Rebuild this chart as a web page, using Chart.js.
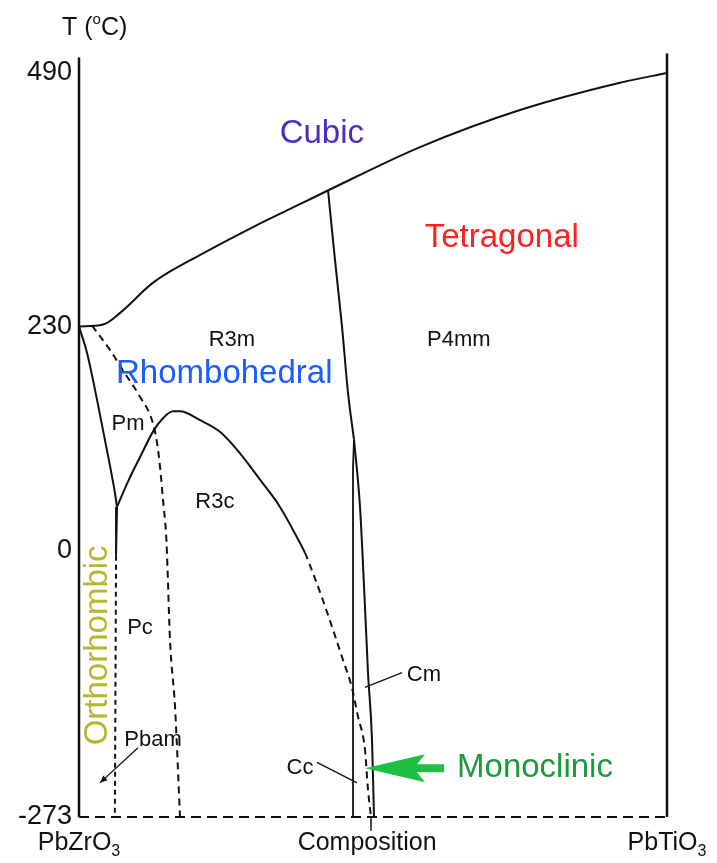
<!DOCTYPE html>
<html>
<head>
<meta charset="utf-8">
<script src="https://cdn.jsdelivr.net/npm/chart.js@4/dist/chart.umd.min.js"></script>
<style>
  html, body { margin: 0; padding: 0; background: #ffffff; }
  #wrap { width: 717px; height: 863px; position: relative; }
</style>
</head>
<body>
<div id="wrap"><canvas id="phase"></canvas></div>
<script>
// Composition runs from 0 (PbZrO3) to 1 (PbTiO3); temperature in °C.
const temperatureTicks = [490, 230, 0, -273];
const compositionLabels = [
  { text: 'PbZrO', sub: '3', x: 0 },
  { text: 'Composition', sub: '', x: 0.49 },
  { text: 'PbTiO', sub: '3', x: 1 }
];

// Phase boundaries, as [composition, temperature] pairs
const cubicBoundary = [[0, 230], [0.041, 232], [0.070, 244], [0.126, 275], [0.211, 305], [0.296, 332],
  [0.381, 357], [0.425, 370], [0.580, 414], [0.750, 452], [0.920, 480], [1, 490]];
const pmBoundary = [[0, 230], [0.0136, 203], [0.0306, 155], [0.0476, 103], [0.0612, 59], [0.0646, 45]];
const orthoSolid = [[0.0646, 45], [0.063, -5]];
const orthoDashed = [[0.063, -5], [0.061, -273]];
const r3cSolid = [[0.0646, 45], [0.0833, 71], [0.1037, 96], [0.1276, 124], [0.1429, 136], [0.1599, 143],
  [0.1718, 143], [0.2058, 134], [0.2398, 122], [0.2738, 100], [0.3078, 73], [0.3418, 45], [0.3759, 8], [0.3844, -2]];
const r3cDashed = [[0.3844, -2], [0.398, -23], [0.415, -51], [0.432, -81], [0.449, -112], [0.464, -140],
  [0.4745, -170], [0.4864, -204], [0.4915, -245], [0.4966, -273]];
const tiltBoundary = [[0.022, 231], [0.0527, 206], [0.0748, 185], [0.1037, 158], [0.1241, 134], [0.1327, 111],
  [0.1378, 86], [0.1429, 52], [0.148, 18], [0.1497, -4], [0.1548, -92], [0.1633, -160], [0.1718, -273]];
const mpbBoundary = [[0.4235, 370], [0.4354, 298], [0.4473, 230], [0.4575, 162], [0.4677, 114]];
const monoLeft = [[0.4677, 114], [0.466, 85], [0.466, -273]];
const monoRight = [[0.4677, 114], [0.4779, 45], [0.4864, -58], [0.4915, -125], [0.4983, -194], [0.5017, -273]];

// Frame
const leftAxis = [[0, -273], [0, 506]];
const rightAxis = [[1, -273], [1, 510]];
const bottomAxis = [[0, -273], [1, -273]];
const compositionTick = [[0.4966, -273], [0.4966, -287]];

// Leader lines for the small phase labels
const pbamPointer = [[0.1003, -202], [0.0357, -238]];
const cmPointer = [[0.5493, -125], [0.4864, -140]];
const ccPointer = [[0.4048, -217], [0.4728, -238]];
const monoclinicArrow = { tip: [0.4864, -223], tail: [0.621, -223] };

// Phase names and space groups
const phaseLabels = [
  { text: 'Cubic', x: 0.413, y: 428, size: 33, color: '#4430c4' },
  { text: 'Tetragonal', x: 0.719, y: 321, size: 33, color: '#ff2020' },
  { text: 'R3m', x: 0.260, y: 216, size: 22, color: '#111111' },
  { text: 'P4mm', x: 0.646, y: 216, size: 22, color: '#111111' },
  { text: 'Rhombohedral', x: 0.247, y: 181, size: 33, color: '#1a5cff' },
  { text: 'Pm', x: 0.0833, y: 130, size: 22, color: '#111111' },
  { text: 'R3c', x: 0.231, y: 50, size: 22, color: '#111111' },
  { text: 'Pc', x: 0.1037, y: -79, size: 22, color: '#111111' },
  { text: 'Pbam', x: 0.1259, y: -194, size: 22, color: '#111111' },
  { text: 'Orthorhombic', x: 0.0323, y: -97, size: 33, color: '#b4b82c', rotate: true },
  { text: 'Cm', x: 0.5867, y: -127, size: 22, color: '#111111' },
  { text: 'Cc', x: 0.3759, y: -223, size: 22, color: '#111111' },
  { text: 'Monoclinic', x: 0.7755, y: -223, size: 33, color: '#1a9a3a' }
];

const FONT = '"Liberation Sans", Arial, Helvetica, sans-serif';
const toXY = arr => arr.map(p => ({ x: p[0], y: p[1] }));

// smooth boundary drawn as a monotone spline along composition
function curve(data, opts) {
  return Object.assign({
    data: toXY(data), showLine: true, pointRadius: 0, borderColor: '#111111',
    borderWidth: 2, cubicInterpolationMode: 'monotone', fill: false, clip: false
  }, opts || {});
}
// straight polyline
function straight(data, opts) {
  return Object.assign({
    data: toXY(data), showLine: true, pointRadius: 0, borderColor: '#111111',
    borderWidth: 2, tension: 0, fill: false, clip: false
  }, opts || {});
}

const datasets = [
  straight(leftAxis, { borderWidth: 2.5 }),
  straight(rightAxis, { borderWidth: 2.5 }),
  straight(bottomAxis, { borderDash: [10, 6] }),
  straight(compositionTick, { borderWidth: 1.5 }),
  curve(cubicBoundary),
  curve(pmBoundary),
  straight(orthoSolid),
  straight(orthoDashed, { borderDash: [5, 4] }),
  curve(r3cSolid),
  curve(r3cDashed, { borderDash: [7, 5] }),
  curve(tiltBoundary, { borderDash: [7, 5] }),
  curve(mpbBoundary),
  straight(monoLeft, { borderWidth: 1.8 }),
  curve(monoRight),
  straight(pbamPointer, { borderWidth: 1.3, arrowEnd: true }),
  straight(cmPointer, { borderWidth: 1.3 }),
  straight(ccPointer, { borderWidth: 1.3 })
];

const annotate = {
  id: 'annotate',
  afterDatasetsDraw(chart) {
    const ctx = chart.ctx;
    const xs = chart.scales.x, ys = chart.scales.y;
    const px = v => xs.getPixelForValue(v), py = v => ys.getPixelForValue(v);

    // arrowheads on leader lines
    chart.data.datasets.forEach(ds => {
      if (!ds.arrowEnd) return;
      const a = ds.data[ds.data.length - 2], b = ds.data[ds.data.length - 1];
      const x1 = px(a.x), y1 = py(a.y), x2 = px(b.x), y2 = py(b.y);
      const ang = Math.atan2(y2 - y1, x2 - x1);
      ctx.save();
      ctx.fillStyle = '#111111';
      ctx.beginPath();
      ctx.moveTo(x2, y2);
      ctx.lineTo(x2 - 8 * Math.cos(ang - 0.4), y2 - 8 * Math.sin(ang - 0.4));
      ctx.lineTo(x2 - 8 * Math.cos(ang + 0.4), y2 - 8 * Math.sin(ang + 0.4));
      ctx.closePath();
      ctx.fill();
      ctx.restore();
    });

    // green arrow pointing at the monoclinic sliver
    {
      const tx = px(monoclinicArrow.tip[0]), ty = py(monoclinicArrow.tip[1]);
      const ex = px(monoclinicArrow.tail[0]);
      ctx.save();
      ctx.fillStyle = '#1fbf45';
      ctx.beginPath();
      ctx.moveTo(tx, ty);
      ctx.lineTo(tx + 60, ty - 14);
      ctx.lineTo(tx + 52, ty - 4);
      ctx.lineTo(ex, ty - 4);
      ctx.lineTo(ex, ty + 4);
      ctx.lineTo(tx + 52, ty + 4);
      ctx.lineTo(tx + 60, ty + 14);
      ctx.closePath();
      ctx.fill();
      ctx.restore();
    }

    ctx.save();
    ctx.textBaseline = 'middle';

    // phase labels
    phaseLabels.forEach(l => {
      ctx.save();
      ctx.font = l.size + 'px ' + FONT;
      ctx.fillStyle = l.color;
      ctx.textAlign = 'center';
      ctx.translate(px(l.x), py(l.y));
      if (l.rotate) ctx.rotate(-Math.PI / 2);
      ctx.fillText(l.text, 0, 0);
      ctx.restore();
    });

    // temperature tick labels
    ctx.font = '27px ' + FONT;
    ctx.fillStyle = '#111111';
    ctx.textAlign = 'right';
    temperatureTicks.forEach(t => ctx.fillText(String(t), px(0) - 7, py(t)));

    // axis title with raised degree sign
    {
      const bx = px(0) - 17, by = py(490) - 45;
      ctx.textAlign = 'left';
      ctx.font = '25px ' + FONT;
      ctx.fillText('T (', bx, by);
      let w = ctx.measureText('T (').width;
      ctx.font = '15px ' + FONT;
      ctx.fillText('o', bx + w, by - 8);
      w += ctx.measureText('o').width;
      ctx.font = '25px ' + FONT;
      ctx.fillText('C)', bx + w, by);
    }

    // composition labels with subscripts
    compositionLabels.forEach(c => {
      ctx.font = '25px ' + FONT;
      const wMain = ctx.measureText(c.text).width;
      ctx.font = '16px ' + FONT;
      const wSub = c.sub ? ctx.measureText(c.sub).width : 0;
      const left = px(c.x) - (wMain + wSub) / 2;
      const y = py(-273) + 26;
      ctx.textAlign = 'left';
      ctx.font = '25px ' + FONT;
      ctx.fillText(c.text, left, y);
      if (c.sub) {
        ctx.font = '16px ' + FONT;
        ctx.fillText(c.sub, left + wMain, y + 9);
      }
    });
    ctx.restore();
  }
};

new Chart(document.getElementById('phase'), {
  type: 'scatter',
  data: { datasets },
  options: {
    responsive: true,
    maintainAspectRatio: false,
    animation: false,
    events: [],
    layout: { padding: { left: 79, right: 50, top: 73, bottom: 46 } },
    plugins: { legend: { display: false }, tooltip: { enabled: false } },
    scales: {
      x: { type: 'linear', min: 0, max: 1, display: false },
      y: { type: 'linear', min: -273, max: 490, display: false }
    }
  },
  plugins: [annotate]
});
</script>
</body>
</html>
